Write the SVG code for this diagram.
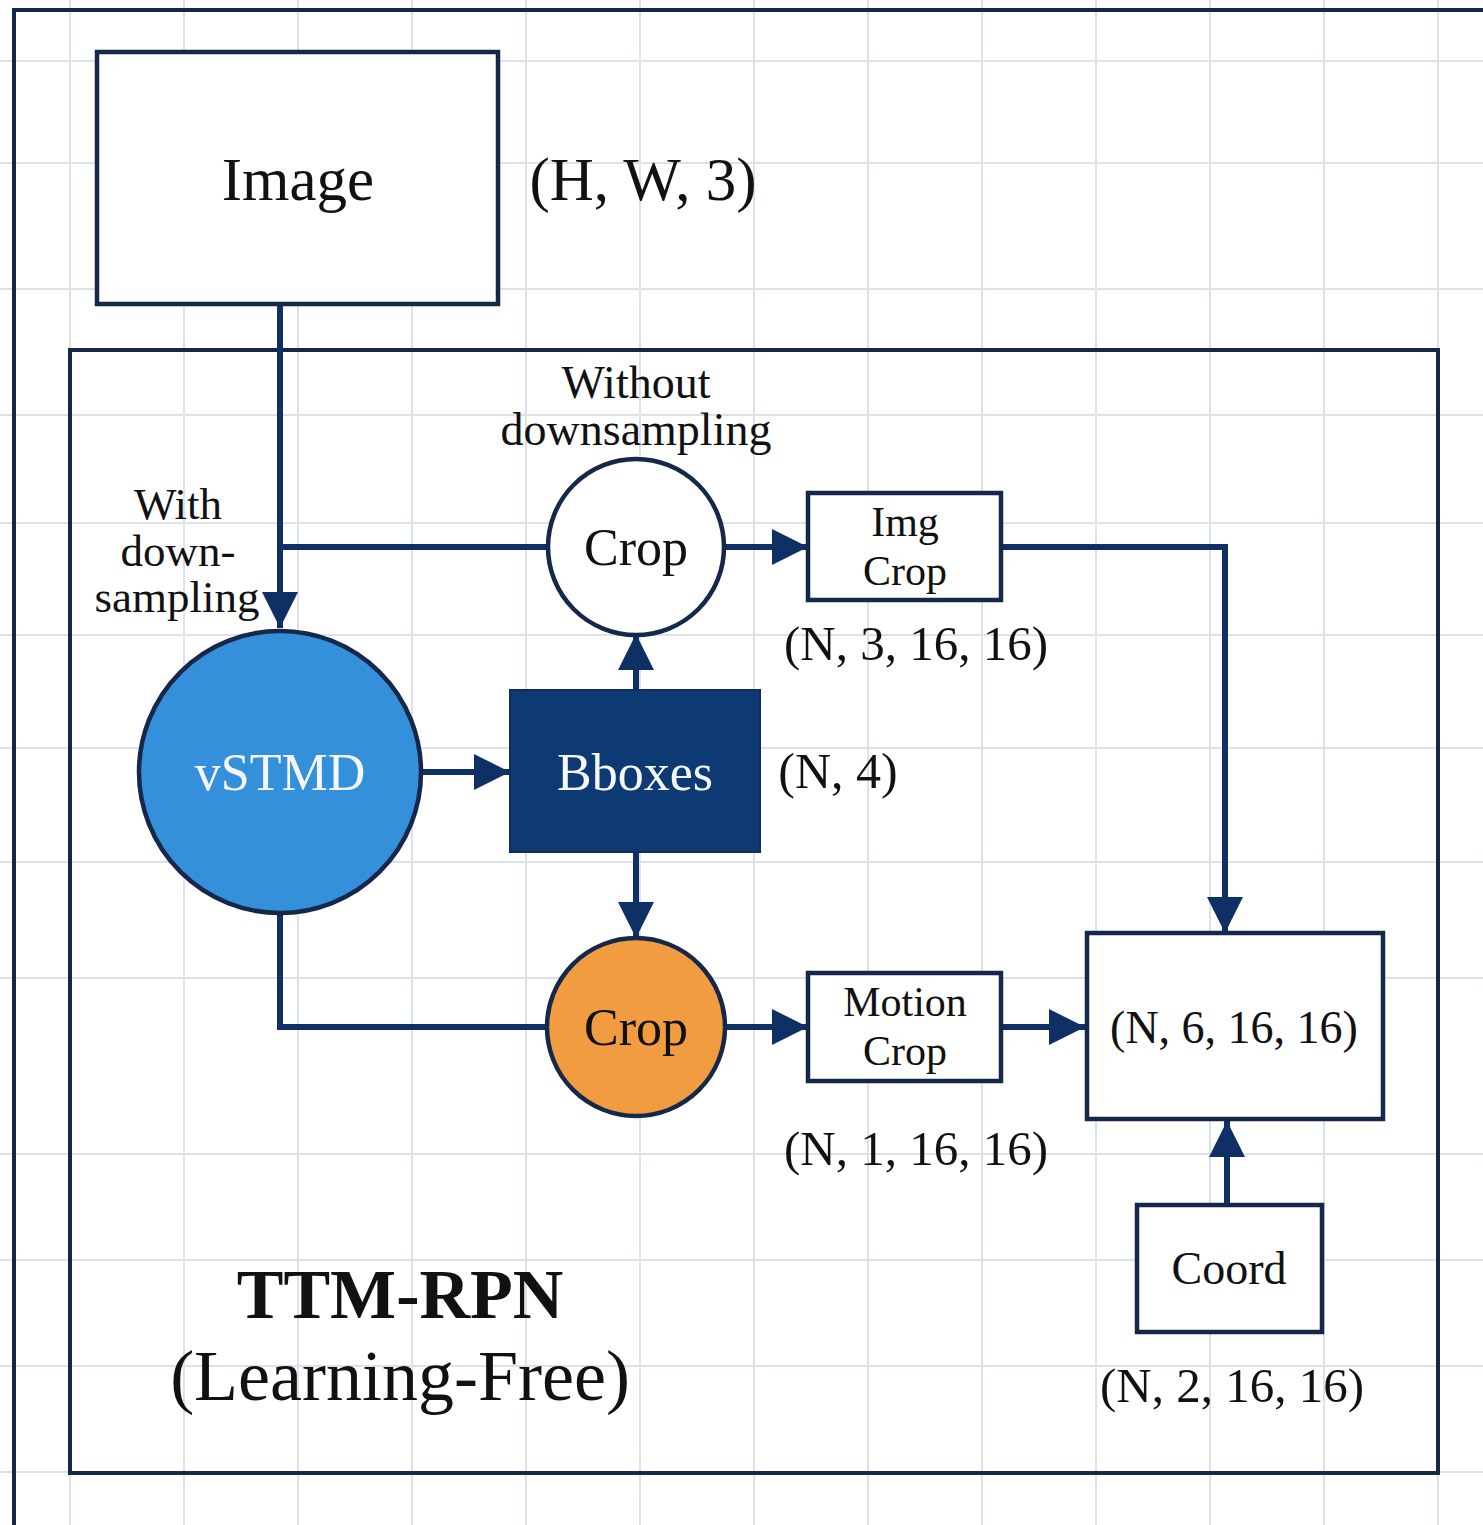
<svg xmlns="http://www.w3.org/2000/svg" width="1483" height="1525" viewBox="0 0 1483 1525">
  <style>
    .grid line { stroke: #dde2ea; stroke-width: 2; }
    .frame { fill: none; stroke: #15284a; stroke-width: 4; }
    .box { fill: #ffffff; stroke: #15284a; stroke-width: 4.5; }
    .conn { fill: none; stroke: #0f3064; stroke-width: 6; }
    .t { font-family: "Liberation Serif", "Times New Roman", serif; fill: #111111; text-anchor: middle; }
    .w { fill: #f4f8fc; }
  </style>
  <defs>
    <marker id="arrow" markerUnits="userSpaceOnUse" markerWidth="36" markerHeight="36" viewBox="0 0 36 36" refX="36" refY="18" orient="auto">
      <path d="M0,0 L36,18 L0,36 Z" fill="#0f3064"/>
    </marker>
  </defs>

  <rect width="1483" height="1525" fill="#ffffff"/>

  <!-- background grid -->
  <g class="grid">
    <line x1="70" y1="0" x2="70" y2="1525"/>
    <line x1="184" y1="0" x2="184" y2="1525"/>
    <line x1="298" y1="0" x2="298" y2="1525"/>
    <line x1="412" y1="0" x2="412" y2="1525"/>
    <line x1="526" y1="0" x2="526" y2="1525"/>
    <line x1="640" y1="0" x2="640" y2="1525"/>
    <line x1="754" y1="0" x2="754" y2="1525"/>
    <line x1="868" y1="0" x2="868" y2="1525"/>
    <line x1="982" y1="0" x2="982" y2="1525"/>
    <line x1="1096" y1="0" x2="1096" y2="1525"/>
    <line x1="1210" y1="0" x2="1210" y2="1525"/>
    <line x1="1324" y1="0" x2="1324" y2="1525"/>
    <line x1="1438" y1="0" x2="1438" y2="1525"/>
    <line x1="0" y1="61" x2="1483" y2="61"/>
    <line x1="0" y1="163" x2="1483" y2="163"/>
    <line x1="0" y1="289" x2="1483" y2="289"/>
    <line x1="0" y1="415" x2="1483" y2="415"/>
    <line x1="0" y1="523" x2="1483" y2="523"/>
    <line x1="0" y1="635" x2="1483" y2="635"/>
    <line x1="0" y1="748" x2="1483" y2="748"/>
    <line x1="0" y1="862" x2="1483" y2="862"/>
    <line x1="0" y1="978" x2="1483" y2="978"/>
    <line x1="0" y1="1154" x2="1483" y2="1154"/>
    <line x1="0" y1="1260" x2="1483" y2="1260"/>
    <line x1="0" y1="1366" x2="1483" y2="1366"/>
    <line x1="0" y1="1472" x2="1483" y2="1472"/>
  </g>

  <!-- outer frame (runs off the right and bottom edges) -->
  <path class="frame" d="M14,1530 V10 H1490"/>

  <!-- TTM-RPN module frame -->
  <g id="ttm-rpn">
    <rect class="frame" x="70" y="350" width="1368" height="1123"/>
    <text class="t" x="400" y="1318" font-size="70" font-weight="bold">TTM-RPN</text>
    <text class="t" x="400" y="1400" font-size="72">(Learning-Free)</text>
  </g>

  <!-- connectors -->
  <g id="connectors">
    <path class="conn" d="M280,304 V628" marker-end="url(#arrow)"/>
    <path class="conn" d="M280,547 H549"/>
    <path class="conn" d="M724,547 H808" marker-end="url(#arrow)"/>
    <path class="conn" d="M421,772 H510" marker-end="url(#arrow)"/>
    <path class="conn" d="M636,690 V634" marker-end="url(#arrow)"/>
    <path class="conn" d="M636,852 V938" marker-end="url(#arrow)"/>
    <path class="conn" d="M280,913 V1027 H548"/>
    <path class="conn" d="M725,1027 H808" marker-end="url(#arrow)"/>
    <path class="conn" d="M1001,1027 H1085" marker-end="url(#arrow)"/>
    <path class="conn" d="M1001,547 H1225 V933" marker-end="url(#arrow)"/>
    <path class="conn" d="M1227,1205 V1121" marker-end="url(#arrow)"/>
  </g>

  <!-- input image -->
  <g id="image">
    <rect class="box" x="97" y="52" width="401" height="252"/>
    <text class="t" x="298" y="200" font-size="61">Image</text>
    <text class="t" x="643" y="200" font-size="61">(H, W, 3)</text>
  </g>

  <!-- path labels -->
  <g id="label-with">
    <text class="t" x="178" y="519" font-size="45">With</text>
    <text class="t" x="178" y="566" font-size="45">down-</text>
    <text class="t" x="177" y="612" font-size="45">sampling</text>
  </g>
  <g id="label-without">
    <text class="t" x="636" y="398" font-size="46">Without</text>
    <text class="t" x="636" y="445" font-size="46">downsampling</text>
  </g>

  <!-- crop on full-resolution image -->
  <g id="crop-image">
    <circle class="box" cx="636" cy="547" r="88"/>
    <text class="t" x="636" y="565" font-size="52">Crop</text>
  </g>

  <g id="img-crop">
    <rect class="box" x="808" y="493" width="193" height="107"/>
    <text class="t" x="905" y="536" font-size="42">Img</text>
    <text class="t" x="905" y="585" font-size="42">Crop</text>
    <text class="t" x="916" y="660" font-size="49">(N, 3, 16, 16)</text>
  </g>

  <g id="vstmd">
    <circle cx="280" cy="772" r="141" fill="#3590dc" stroke="#15284a" stroke-width="4.5"/>
    <text class="t w" x="280" y="790" font-size="52">vSTMD</text>
  </g>

  <g id="bboxes">
    <rect x="510" y="690" width="250" height="162" fill="#0e3a73" stroke="#0b2f5e" stroke-width="2"/>
    <text class="t w" x="635" y="790" font-size="52">Bboxes</text>
    <text class="t" x="838" y="788" font-size="50">(N, 4)</text>
  </g>

  <!-- crop on motion map -->
  <g id="crop-motion">
    <circle cx="636" cy="1027" r="89" fill="#f29c42" stroke="#15284a" stroke-width="4.5"/>
    <text class="t" x="636" y="1045" font-size="52" fill="#2a1608">Crop</text>
  </g>

  <g id="motion-crop">
    <rect class="box" x="808" y="973" width="193" height="108"/>
    <text class="t" x="905" y="1016" font-size="42">Motion</text>
    <text class="t" x="905" y="1065" font-size="42">Crop</text>
    <text class="t" x="916" y="1165" font-size="49">(N, 1, 16, 16)</text>
  </g>

  <g id="concat">
    <rect class="box" x="1087" y="933" width="296" height="186"/>
    <text class="t" x="1234" y="1043" font-size="46">(N, 6, 16, 16)</text>
  </g>

  <g id="coord">
    <rect class="box" x="1137" y="1205" width="185" height="127"/>
    <text class="t" x="1229" y="1284" font-size="46">Coord</text>
    <text class="t" x="1232" y="1402" font-size="49">(N, 2, 16, 16)</text>
  </g>
</svg>
